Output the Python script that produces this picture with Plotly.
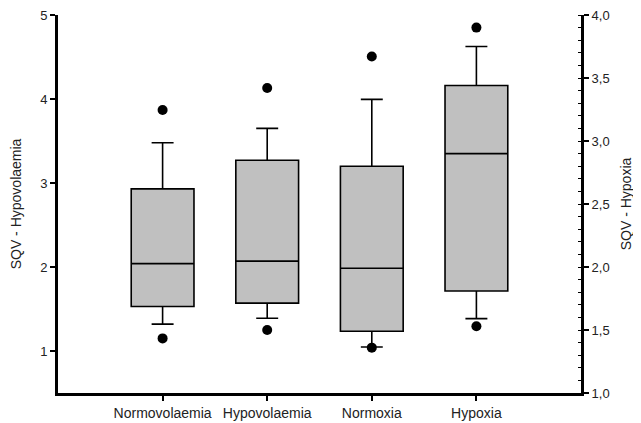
import plotly.graph_objects as go

# Left axis (SQV - Hypovolaemia) groups
cats_left = ["Normovolaemia", "Hypovolaemia"]
q1_left = [1.53, 1.57]
median_left = [2.04, 2.07]
q3_left = [2.93, 3.27]
lower_left = [1.32, 1.39]
upper_left = [3.48, 3.65]
out_hi_left = [3.87, 4.13]
out_lo_left = [1.15, 1.25]

# Right axis (SQV - Hypoxia) groups
cats_right = ["Normoxia", "Hypoxia"]
q1_right = [1.49, 1.81]
median_right = [1.99, 2.90]
q3_right = [2.80, 3.44]
lower_right = [1.365, 1.59]
upper_right = [3.33, 3.75]
out_hi_right = [3.67, 3.90]
out_lo_right = [1.36, 1.53]

categories = cats_left + cats_right
left_ticks = [1, 2, 3, 4, 5]
right_ticks = [1.0, 1.5, 2.0, 2.5, 3.0, 3.5, 4.0]

FONT = "Liberation Sans, Arial, sans-serif"
box_style = dict(boxpoints=False, width=0.6, whiskerwidth=0.35,
                 fillcolor="#c0c0c0", line=dict(color="black", width=1.6),
                 showlegend=False, hoverinfo="skip")
dot = dict(mode="markers", marker=dict(color="black", size=10),
           showlegend=False, hoverinfo="skip")

fig = go.Figure()
fig.add_trace(go.Box(x=cats_left, q1=q1_left, median=median_left, q3=q3_left,
                     lowerfence=lower_left, upperfence=upper_left,
                     yaxis="y", **box_style))
fig.add_trace(go.Box(x=cats_right, q1=q1_right, median=median_right, q3=q3_right,
                     lowerfence=lower_right, upperfence=upper_right,
                     yaxis="y2", **box_style))
fig.add_trace(go.Scatter(x=cats_left + cats_left, y=out_hi_left + out_lo_left,
                         yaxis="y", **dot))
fig.add_trace(go.Scatter(x=cats_right + cats_right, y=out_hi_right + out_lo_right,
                         yaxis="y2", **dot))

# page body adds an 8px offset, so the figure is 8px smaller
fig.update_layout(
    width=633, height=415,
    margin=dict(l=50, r=60, t=7, b=30, autoexpand=False),
    paper_bgcolor="white", plot_bgcolor="white",
    separators=", ",
    font=dict(family=FONT, size=12, color="#222"),
    boxmode="overlay",
    xaxis=dict(type="category", categoryorder="array", categoryarray=categories,
               range=[-1, 4], showgrid=False, zeroline=False, automargin=False,
               showline=True, linecolor="black", linewidth=3,
               ticks="outside", ticklen=5, tickwidth=2, tickcolor="black",
               tickfont=dict(size=14)),
    yaxis=dict(range=[0.5, 5], tickvals=left_ticks, showgrid=False, zeroline=False,
               automargin=False, ticklabeloverflow="allow",
               showline=True, linecolor="black", linewidth=3,
               ticks="outside", ticklen=5, tickwidth=1.5, tickcolor="black",
               tickfont=dict(size=13),
               title=dict(text="SQV - Hypovolaemia", font=dict(size=14), standoff=16)),
    yaxis2=dict(range=[1, 4], tickvals=right_ticks, tickformat=".1f",
                overlaying="y", side="right", anchor="x", automargin=False,
                ticklabeloverflow="allow",
                showgrid=False, zeroline=False,
                showline=True, linecolor="black", linewidth=3,
                ticks="outside", ticklen=5, tickwidth=1.5, tickcolor="black",
                minor=dict(dtick=0.1, ticks="inside", ticklen=3, tickwidth=1,
                           tickcolor="black", showgrid=False),
                tickfont=dict(size=13),
                title=dict(text="SQV - Hypoxia", font=dict(size=14), standoff=13)),
)

fig.write_html("out.html")
